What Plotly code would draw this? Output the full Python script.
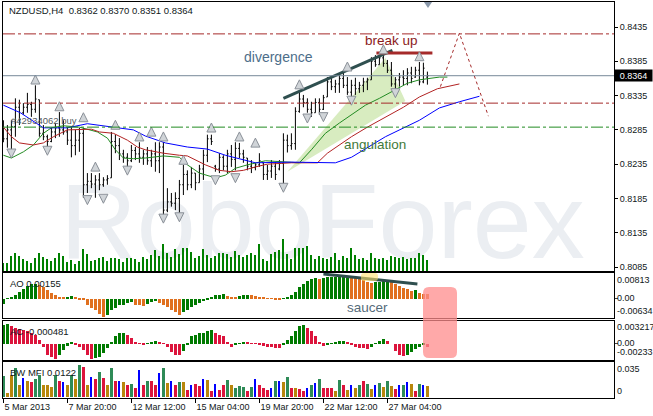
import plotly.graph_objects as go
from plotly.subplots import make_subplots

FONT = "Liberation Sans, Arial, sans-serif"

# ---- NZDUSD H4 bars, index 0 = first bar on 5 Mar 2013 ----
bar_open = [0.8290, 0.8272, 0.8285, 0.8290, 0.8318, 0.8310, 0.8318, 0.8322, 0.8315, 0.8329,
            0.8280, 0.8275, 0.8268, 0.8282, 0.8288, 0.8285, 0.8282, 0.8270, 0.8262, 0.8270,
            0.8280, 0.8205, 0.8210, 0.8206, 0.8212, 0.8205, 0.8212, 0.8215, 0.8268, 0.8262,
            0.8250, 0.8245, 0.8240, 0.8255, 0.8250, 0.8245, 0.8250, 0.8240, 0.8250, 0.8240,
            0.8260, 0.8168, 0.8180, 0.8178, 0.8185, 0.8205, 0.8220, 0.8205, 0.8222, 0.8208,
            0.8228, 0.8248, 0.8272, 0.8232, 0.8228, 0.8245, 0.8232, 0.8250, 0.8242, 0.8258,
            0.8250, 0.8244, 0.8232, 0.8230, 0.8234, 0.8237, 0.8220, 0.8225, 0.8232, 0.8228,
            0.8236, 0.8270, 0.8262, 0.8265, 0.8312, 0.8330, 0.8325, 0.8315, 0.8310, 0.8325,
            0.8315, 0.8333, 0.8355, 0.8348, 0.8352, 0.8360, 0.8350, 0.8340, 0.8350, 0.8345,
            0.8350, 0.8355, 0.8358, 0.8385, 0.8380, 0.8390, 0.8382, 0.8372, 0.8352, 0.8358,
            0.8362, 0.8360, 0.8368, 0.8362, 0.8372, 0.8355, 0.8362]
bar_high = [0.8299, 0.8292, 0.8299, 0.8331, 0.8329, 0.8324, 0.8339, 0.8326, 0.8350, 0.8329,
            0.8292, 0.8278, 0.8288, 0.8295, 0.8311, 0.8299, 0.8289, 0.8289, 0.8285, 0.8288,
            0.8288, 0.8222, 0.8222, 0.8219, 0.8222, 0.8216, 0.8219, 0.8282, 0.8278, 0.8273,
            0.8256, 0.8251, 0.8263, 0.8260, 0.8267, 0.8256, 0.8260, 0.8256, 0.8267, 0.8267,
            0.8267, 0.8200, 0.8193, 0.8194, 0.8212, 0.8234, 0.8226, 0.8231, 0.8222, 0.8234,
            0.8256, 0.8278, 0.8278, 0.8234, 0.8251, 0.8248, 0.8256, 0.8263, 0.8267, 0.8266,
            0.8256, 0.8244, 0.8241, 0.8237, 0.8251, 0.8237, 0.8234, 0.8241, 0.8238, 0.8241,
            0.8280, 0.8278, 0.8280, 0.8318, 0.8340, 0.8336, 0.8331, 0.8326, 0.8331, 0.8331,
            0.8336, 0.8362, 0.8361, 0.8358, 0.8365, 0.8369, 0.8362, 0.8358, 0.8361, 0.8355,
            0.8361, 0.8361, 0.8391, 0.8394, 0.8394, 0.8397, 0.8387, 0.8384, 0.8362, 0.8368,
            0.8372, 0.8375, 0.8377, 0.8377, 0.8384, 0.8383, 0.8370]
bar_low = [0.8267, 0.8259, 0.8253, 0.8275, 0.8292, 0.8307, 0.8310, 0.8304, 0.8310, 0.8275,
           0.8270, 0.8259, 0.8267, 0.8273, 0.8275, 0.8278, 0.8263, 0.8245, 0.8248, 0.8253,
           0.8186, 0.8193, 0.8200, 0.8186, 0.8197, 0.8202, 0.8205, 0.8215, 0.8251, 0.8241,
           0.8237, 0.8229, 0.8238, 0.8241, 0.8237, 0.8234, 0.8234, 0.8231, 0.8224, 0.8222,
           0.8161, 0.8165, 0.8173, 0.8168, 0.8164, 0.8190, 0.8197, 0.8200, 0.8197, 0.8208,
           0.8212, 0.8238, 0.8263, 0.8224, 0.8222, 0.8226, 0.8222, 0.8231, 0.8226, 0.8244,
           0.8237, 0.8226, 0.8222, 0.8226, 0.8231, 0.8212, 0.8212, 0.8215, 0.8212, 0.8226,
           0.8205, 0.8252, 0.8256, 0.8256, 0.8310, 0.8318, 0.8310, 0.8304, 0.8310, 0.8307,
           0.8314, 0.8333, 0.8343, 0.8339, 0.8339, 0.8346, 0.8336, 0.8333, 0.8336, 0.8339,
           0.8340, 0.8343, 0.8358, 0.8377, 0.8380, 0.8377, 0.8368, 0.8348, 0.8343, 0.8348,
           0.8350, 0.8350, 0.8353, 0.8361, 0.8350, 0.8353, 0.8351]
bar_close = [0.8272, 0.8285, 0.8290, 0.8318, 0.8300, 0.8318, 0.8322, 0.8315, 0.8330, 0.8280,
             0.8275, 0.8268, 0.8282, 0.8288, 0.8285, 0.8282, 0.8270, 0.8262, 0.8270, 0.8280,
             0.8205, 0.8210, 0.8206, 0.8212, 0.8205, 0.8212, 0.8214, 0.8268, 0.8262, 0.8250,
             0.8245, 0.8240, 0.8255, 0.8250, 0.8245, 0.8250, 0.8240, 0.8250, 0.8240, 0.8260,
             0.8168, 0.8180, 0.8178, 0.8185, 0.8205, 0.8220, 0.8205, 0.8222, 0.8208, 0.8228,
             0.8248, 0.8272, 0.8268, 0.8228, 0.8245, 0.8232, 0.8250, 0.8242, 0.8258, 0.8250,
             0.8245, 0.8232, 0.8230, 0.8234, 0.8240, 0.8220, 0.8225, 0.8232, 0.8220, 0.8236,
             0.8270, 0.8262, 0.8265, 0.8312, 0.8330, 0.8325, 0.8315, 0.8310, 0.8325, 0.8315,
             0.8332, 0.8355, 0.8348, 0.8352, 0.8360, 0.8350, 0.8340, 0.8350, 0.8345, 0.8350,
             0.8355, 0.8358, 0.8385, 0.8380, 0.8390, 0.8382, 0.8372, 0.8352, 0.8358, 0.8362,
             0.8360, 0.8368, 0.8360, 0.8372, 0.8355, 0.8375, 0.8364]
tick_volume = [830, 830, 1500, 1830, 1500, 1170, 1000, 830, 1330, 1830,
               1400, 1170, 1000, 1330, 1830, 1500, 930, 1070, 670, 1000,
               2170, 1670, 1000, 1070, 1330, 1400, 1000, 1270, 1270, 1170,
               930, 1330, 1330, 1170, 930, 1400, 1170, 1600, 2070, 1500,
               2670, 1830, 1400, 2170, 1730, 2270, 2270, 1930, 1330, 1500,
               2170, 1600, 1270, 1500, 1830, 1830, 1670, 1400, 2000, 1600,
               1400, 1600, 1830, 1600, 2670, 1170, 1000, 1670, 1930, 2100,
               3170, 1670, 1170, 2330, 2330, 2270, 2500, 1600, 1170, 1500,
               1330, 1170, 1400, 1770, 1070, 1500, 1330, 2270, 1600, 1170,
               1330, 1070, 1770, 1270, 1170, 1330, 1070, 1500, 1400, 1330,
               1430, 1170, 1330, 1330, 1770, 1600, 1070]

# Alligator lines (shifted forward past the last bar)
jaw_idx = [0, 4.25, 10, 16, 21, 27.5, 32.5, 35.5, 40.5, 46, 51, 55.5, 60.5, 63, 72, 83, 87, 92,
           95.5, 104, 109, 114, 119]
jaw_val = [0.8321, 0.8310, 0.8288, 0.8288, 0.8294, 0.8289, 0.8285, 0.8276, 0.8266, 0.8260,
           0.8257, 0.8248, 0.8241, 0.8237, 0.8238, 0.8237, 0.8245, 0.8263, 0.8275, 0.8299,
           0.8317, 0.8326, 0.8334]
teeth_idx = [0, 2, 4, 7.5, 10, 12.5, 16, 22, 24, 27.5, 31, 33.5, 35.5, 40, 44, 46, 50.5, 54, 57,
             60, 63, 66, 72, 78.5, 81, 87, 91, 95.5, 100, 104, 108.5, 114]
teeth_val = [0.8289, 0.8275, 0.8266, 0.8263, 0.8266, 0.8275, 0.8285, 0.8286, 0.8282, 0.8280,
             0.8270, 0.8260, 0.8256, 0.8251, 0.8248, 0.8247, 0.8234, 0.8226, 0.8224, 0.8226,
             0.8231, 0.8235, 0.8237, 0.8237, 0.8251, 0.8275, 0.8289, 0.8304, 0.8318, 0.8333,
             0.8345, 0.8352]
lips_idx = [0, 2, 5, 7.5, 10, 12, 15, 19, 23.5, 26, 28, 30, 32.5, 35.5, 40, 44, 46, 49, 53, 55.5,
            58, 61, 65.5, 72, 74, 77, 80.5, 84, 87, 90.5, 94, 98, 101, 104, 109, 111]
lips_val = [0.8248, 0.8244, 0.8253, 0.8263, 0.8280, 0.8288, 0.8291, 0.8289, 0.8282, 0.8273,
            0.8256, 0.8244, 0.8243, 0.8244, 0.8247, 0.8245, 0.8234, 0.8222, 0.8215, 0.8219,
            0.8229, 0.8234, 0.8240, 0.8238, 0.8237, 0.8256, 0.8280, 0.8295, 0.8307, 0.8321,
            0.8331, 0.8343, 0.8353, 0.8358, 0.8362, 0.8362]

# Fractals
fractal_up_idx = [8, 14, 20, 23, 28, 34, 37, 40, 45, 52, 59, 63, 74, 86, 95, 104]
fractal_up_price = [0.8365, 0.8326, 0.8310, 0.8238, 0.8299, 0.8282, 0.8289, 0.8282, 0.8248,
                    0.8295, 0.8282, 0.8273, 0.8358, 0.8384, 0.8409, 0.8399]
fractal_dn_idx = [2, 11, 21, 25, 31, 40, 44, 53, 58, 70, 76, 80, 87, 98]
fractal_dn_price = [0.8244, 0.8248, 0.8176, 0.8178, 0.8219, 0.8149, 0.8151, 0.8205, 0.8208,
                    0.8194, 0.8295, 0.8297, 0.8321, 0.8332]

# Drawn objects
red_levels = [0.8425, 0.8324]
buy_order_price = 0.8289
bid_price = 0.8364
divergence_idx = [70, 97.25]
divergence_price = [0.8331, 0.8401]
breakup_idx = [93.25, 107.25]
breakup_price = [0.8397, 0.8397]
angulation_idx = [71, 95.5, 100.5]
angulation_price = [0.8224, 0.8390, 0.8327]
forecast_idx = [109.25, 114, 121.25]
forecast_price = [0.8348, 0.8426, 0.8305]

# Awesome Oscillator, x 1e-4
ao_e4 = [-20, 2, 6, 14, 26, 36, 46, 52, 54, 50, 42, 30, 22, 12, 6, 5, 8, 9, 4, -2,
         -6, -24, -34, -42, -54, -66, -58, -42, -34, -24, -22, -16, -12, -22, -24, -26, -18, -12, -8, -14,
         -24, -30, -40, -48, -58, -48, -40, -31, -22, -16, -10, -4, 6, 12, 14, 16, 10, 8, 7, 11,
         12, 13, 12, 10, 7, 5, 2, -1, -3, -4, -1, 7, 14, 26, 42, 54, 64, 70, 74, 72,
         74, 77, 78, 79, 80, 81, 82, 80, 77, 72, 67, 62, 58, 60, 62, 64, 65, 60, 54, 46,
         38, 34, 29, 30, 22, 18, 15.5]
saucer_idx = [80, 103.5]
saucer_ao = [0.0089, 0.0053]

# Accelerator Oscillator, x 1e-4
ac_e4 = [30, 32, 28, 26, 24, 22, 20, 17, 14, 6, -4, -18, -20, -23, -18, -10, -3, 3, -2, -4,
         -10, -17, -23, -22, -20, -15, -7, 2, 13, 17, 18, 14, 9, 3, 0.5, -0.5, 0.5, 3, 4, 3,
         0.5, -4, -12, -17, -18, -11, -0.3, 12, 14, 17, 17.5, 20, 22, 17, 14, 12, 3, -5, -2, 1,
         3, 2, 1, 0.5, -2, -3, -5, -5.5, -5.8, -6, -2, 6, 12, 20, 28, 30, 26, 20, 12, 3,
         -3, -2, 0.5, 2, 4, 5, 3, -2, -4, -6, -7, -7.5, -4, 1, 5, 8, 4, 0, -11, -17,
         -19, -17, -13, -8, -4, -2, -4.81]

# Bill Williams Market Facilitation Index
mfi = [0.0228, 0.0050, 0.0246, 0.0319, 0.0136, 0.0209, 0.0180, 0.0165, 0.0202, 0.0246,
       0.0128, 0.0128, 0.0106, 0.0246, 0.0180, 0.0172, 0.0128, 0.0246, 0.0202, 0.0356,
       0.0338, 0.0136, 0.0224, 0.0202, 0.0283, 0.0209, 0.0136, 0.0319, 0.0180, 0.0180,
       0.0165, 0.0136, 0.0147, 0.0099, 0.0301, 0.0136, 0.0180, 0.0180, 0.0128, 0.0264,
       0.0319, 0.0154, 0.0180, 0.0128, 0.0165, 0.0165, 0.0081, 0.0128, 0.0143, 0.0117,
       0.0202, 0.0191, 0.0070, 0.0143, 0.0081, 0.0128, 0.0191, 0.0128, 0.0099, 0.0117,
       0.0110, 0.0070, 0.0110, 0.0202, 0.0136, 0.0099, 0.0081, 0.0099, 0.0180, 0.0180,
       0.0172, 0.0224, 0.0099, 0.0099, 0.0092, 0.0070, 0.0099, 0.0136, 0.0154, 0.0202,
       0.0099, 0.0099, 0.0095, 0.0070, 0.0191, 0.0128, 0.0081, 0.0128, 0.0099, 0.0128,
       0.0180, 0.0147, 0.0092, 0.0128, 0.0161, 0.0106, 0.0180, 0.0117, 0.0090, 0.0128,
       0.0136, 0.0172, 0.0143, 0.0070, 0.0147, 0.0128, 0.0122]
mfi_state = ["green", "fade", "fade", "green", "fade", "fake", "fade", "squat", "green", "green",
             "fade", "fade", "fade", "green", "squat", "fake", "fade", "green", "fade", "green",
             "squat", "fade", "fake", "squat", "green", "squat", "fade", "green", "squat", "fake",
             "fade", "squat", "green", "squat", "fake", "squat", "green", "squat", "squat", "fake",
             "green", "fade", "fake", "squat", "green", "fade", "squat", "fake", "squat", "squat",
             "fake", "fade", "squat", "fake", "squat", "squat", "green", "fade", "green", "green",
             "green", "squat", "green", "fake", "squat", "squat", "squat", "fake", "green", "fake",
             "fade", "green", "squat", "fade", "squat", "squat", "fake", "green", "fake", "green",
             "squat", "squat", "squat", "fade", "green", "squat", "fade", "fake", "fade", "green",
             "squat", "green", "fade", "fake", "green", "fade", "green", "fade", "squat", "fake",
             "green", "fake", "fade", "squat", "green", "fake", "fade"]

tick_idx = [0, 16, 32, 48, 64, 80, 96]
tick_text = ["5 Mar 2013", "7 Mar 20:00", "12 Mar 12:00", "15 Mar 04:00",
             "19 Mar 20:00", "22 Mar 12:00", "27 Mar 04:00"]
price_ticks = [0.8085, 0.8135, 0.8185, 0.8235, 0.8285, 0.8335, 0.8385, 0.8435]

# ---- layout geometry (pixels of the 653x416 page) ----
PLOT_L, PLOT_R, PLOT_T, PLOT_B = 3, 614, 2, 398


def px_x(p):
    return (p - PLOT_L) / (PLOT_R - PLOT_L)


def px_y(p):
    return (PLOT_B - p) / (PLOT_B - PLOT_T)


MFI_COLORS = {"green": "#2e8b57", "fade": "#b8860b", "fake": "#0000ff", "squat": "#dc143c"}
AO_UP, AO_DN = "#007a00", "#e0701e"
AC_UP, AC_DN = "#007a00", "#dc143c"

ao = [v * 1e-4 for v in ao_e4]
ac = [v * 1e-4 for v in ac_e4]
bars_x = list(range(len(bar_close)))
ao_colors = [AO_UP if i == 0 or ao[i] > ao[i - 1] else AO_DN for i in range(len(ao))]
ac_colors = [AC_UP if i == 0 or ac[i] > ac[i - 1] else AC_DN for i in range(len(ac))]

fig = make_subplots(rows=4, cols=1, shared_xaxes=True, vertical_spacing=0.01)

# volume inside the price window
fig.add_trace(go.Bar(x=bars_x, y=tick_volume, width=0.25, marker_color="#008000",
                     marker_line_width=0, xaxis="x", yaxis="y5", hoverinfo="skip"))

fig.add_trace(go.Ohlc(
    x=bars_x, open=bar_open, high=bar_high, low=bar_low, close=bar_close,
    increasing={"line": {"color": "black", "width": 1}},
    decreasing={"line": {"color": "black", "width": 1}},
    tickwidth=0.3, hoverinfo="skip",
), row=1, col=1)

for xs, ys, color in [(lips_idx, lips_val, "#228b22"), (teeth_idx, teeth_val, "#b22222"),
                      (jaw_idx, jaw_val, "#0000ff")]:
    fig.add_trace(go.Scatter(x=xs, y=ys, mode="lines", line={"color": color, "width": 1},
                             hoverinfo="skip"), row=1, col=1)

fig.add_trace(go.Scatter(x=divergence_idx, y=divergence_price, mode="lines",
                         line={"color": "#2f4f4f", "width": 3}), row=1, col=1)
fig.add_trace(go.Scatter(x=breakup_idx, y=breakup_price, mode="lines",
                         line={"color": "#a52a2a", "width": 3}), row=1, col=1)
fig.add_trace(go.Scatter(x=forecast_idx, y=forecast_price, mode="lines",
                         line={"color": "#a52a2a", "width": 1, "dash": "dot"}), row=1, col=1)

fig.add_trace(go.Scatter(x=fractal_up_idx, y=fractal_up_price, mode="markers",
                         marker={"symbol": "arrow-up", "size": 9, "color": "#d0d4d8",
                                 "line": {"color": "#8a9098", "width": 1}}), row=1, col=1)
fig.add_trace(go.Scatter(x=fractal_dn_idx, y=fractal_dn_price, mode="markers",
                         marker={"symbol": "arrow-down", "size": 9, "color": "#d0d4d8",
                                 "line": {"color": "#8a9098", "width": 1}}), row=1, col=1)

fig.add_trace(go.Bar(x=bars_x, y=ao, width=0.75, marker_color=ao_colors, marker_line_width=0),
              row=2, col=1)
fig.add_trace(go.Scatter(x=saucer_idx, y=saucer_ao, mode="lines",
                         line={"color": "#2f4f4f", "width": 3}), row=2, col=1)
fig.add_trace(go.Bar(x=bars_x, y=ac, width=0.75, marker_color=ac_colors, marker_line_width=0),
              row=3, col=1)
fig.add_trace(go.Bar(x=bars_x, y=mfi,
                     width=[0.25 if s == "fake" else 0.75 for s in mfi_state],
                     marker_color=[MFI_COLORS[s] for s in mfi_state], marker_line_width=0),
              row=4, col=1)

# ---- horizontal levels and shapes ----
DASHDOT = "12px,3px,3px,3px"
for lvl in red_levels:
    fig.add_shape(type="line", xref="x domain", yref="y", x0=0, x1=1, y0=lvl, y1=lvl,
                  line={"color": "#a52a2a", "width": 1, "dash": DASHDOT})
fig.add_shape(type="line", xref="x domain", yref="y", x0=0, x1=1,
              y0=buy_order_price, y1=buy_order_price,
              line={"color": "#228b22", "width": 1, "dash": DASHDOT})
fig.add_shape(type="line", xref="x domain", yref="y", x0=0, x1=1, y0=bid_price, y1=bid_price,
              line={"color": "#778899", "width": 1})

tri = "M {},{} L {},{} L {},{} Z".format(angulation_idx[0], angulation_price[0],
                                         angulation_idx[1], angulation_price[1],
                                         angulation_idx[2], angulation_price[2])
fig.add_shape(type="path", path=tri, xref="x", yref="y", fillcolor="#d8ecc0",
              line={"width": 0}, layer="below")

# watermark
fig.add_shape(type="rect", xref="paper", yref="paper", x0=px_x(60), x1=px_x(585),
              y0=px_y(266), y1=px_y(156), line={"width": 0}, fillcolor="rgba(0,0,0,0)",
              layer="below",
              label={"text": "RoboForex", "textposition": "middle center",
                     "font": {"size": 106, "color": "#ebeef2", "family": FONT}})


def rounded_rect(x0, x1, y0, y1, r=5):
    rx = r / (PLOT_R - PLOT_L)
    ry = r / (PLOT_B - PLOT_T)
    a, b, c, d = px_x(x0), px_x(x1), px_y(y1), px_y(y0)
    return (f"M {a + rx},{c} L {b - rx},{c} Q {b},{c} {b},{c + ry} L {b},{d - ry} "
            f"Q {b},{d} {b - rx},{d} L {a + rx},{d} Q {a},{d} {a},{d - ry} "
            f"L {a},{c + ry} Q {a},{c} {a + rx},{c} Z")


fig.add_shape(type="path", xref="paper", yref="paper", path=rounded_rect(423, 457, 287, 358, 6),
              fillcolor="rgba(255,140,140,0.75)", line={"width": 0}, layer="above")
fig.add_shape(type="path", xref="paper", yref="paper", path=rounded_rect(361, 378, 273, 281, 3),
              fillcolor="rgba(255,225,110,0.6)", line={"width": 0}, layer="above")
# chart-shift marker
sx = px_x(428)
fig.add_shape(type="path", xref="paper", yref="paper",
              path=f"M {sx - 0.0066},{px_y(2)} L {sx + 0.0066},{px_y(2)} L {sx},{px_y(8)} Z",
              fillcolor="#8a98aa", line={"width": 0})

# ---- texts ----
def note(text, x, y, size=9.5, color="#101820", **kw):
    kw.setdefault("yanchor", "middle")
    fig.add_annotation(text=text, x=x, y=y, showarrow=False,
                       font={"family": FONT, "size": size, "color": color}, **kw)


note("NZDUSD,H4  0.8362 0.8370 0.8351 0.8364", px_x(7), px_y(10), xref="paper", yref="paper",
     xanchor="left")
note("#42934062 buy", px_x(9), buy_order_price, xref="paper", yref="y", xanchor="left",
     yanchor="bottom", color="#555a60", size=9.5, yshift=-1)
note("divergence", 68.75, 0.8391, size=14, color="#4d6e8a", xref="x", yref="y")
note("break up", 97, 0.8416, size=13.5, color="#8b1a1a", xref="x", yref="y")
note("angulation", 93, 0.8263, size=13.5, color="#3f7a3a", xref="x", yref="y")
note("saucer", 91, -0.0030, size=13.5, color="#556b7a", xref="x2", yref="y2")

note("AO 0.00155", px_x(8), px_y(283), xref="paper", yref="paper", xanchor="left")
note("AC -0.000481", px_x(8), px_y(331), xref="paper", yref="paper", xanchor="left")
note("BW MFI 0.0122", px_x(8), px_y(372), xref="paper", yref="paper", xanchor="left")

for text, ypix in [("0.00813", 280), ("0.00", 298), ("-0.00634", 311),
                   ("0.003217", 327), ("0.00", 343), ("-0.00233", 352),
                   ("0.035", 369), ("0", 391)]:
    note(text, 1, px_y(ypix), size=9, xref="paper", yref="paper", xanchor="left", xshift=1)

fig.add_annotation(text="0.8364", x=1, y=bid_price, xref="paper", yref="y", xanchor="left",
                   yanchor="middle", showarrow=False, bgcolor="black", width=37, height=11,
                   borderpad=0, font={"family": FONT, "size": 9, "color": "white"})

# ---- axes ----
axis_common = dict(showgrid=False, zeroline=False, showline=True, mirror=True,
                   linecolor="black", linewidth=1)
fig.update_xaxes(range=[-0.1, 152.65], showticklabels=False, ticks="",
                 rangeslider_visible=False, **axis_common)
fig.update_xaxes(row=4, col=1, showticklabels=True, tickvals=tick_idx, ticktext=tick_text,
                 ticks="outside", ticklen=4, tickcolor="black",
                 ticklabelposition="outside right",
                 tickfont={"family": FONT, "size": 9, "color": "#101820"})
fig.update_yaxes(side="right", **axis_common)

fig.update_layout(
    width=653, height=416,
    margin=dict(l=PLOT_L, r=653 - PLOT_R, t=PLOT_T, b=416 - PLOT_B),
    paper_bgcolor="white", plot_bgcolor="white",
    showlegend=False, bargap=0,
    yaxis=dict(domain=[px_y(271), 1.0], range=[0.80792, 0.84715], tickvals=price_ticks,
               tickformat=".4f", ticks="outside", ticklen=3, tickcolor="black",
               tickfont={"family": FONT, "size": 9, "color": "#101820"}, automargin=False),
    yaxis2=dict(domain=[px_y(318), px_y(273)], range=[-0.00696, 0.00928], tickvals=[0],
                showticklabels=False, ticks="outside", ticklen=3),
    yaxis3=dict(domain=[px_y(360), px_y(321)], range=[-0.00253, 0.00363], tickvals=[0],
                showticklabels=False, ticks="outside", ticklen=3),
    yaxis4=dict(domain=[0, px_y(362)], range=[-0.0011, 0.0389], showticklabels=False,
                ticks=""),
    yaxis5=dict(overlaying="y", anchor="x", range=[0, 26900], visible=False),
)

fig.write_html("out.html", config={"displayModeBar": False},
               post_script="document.body.style.margin='0';")
